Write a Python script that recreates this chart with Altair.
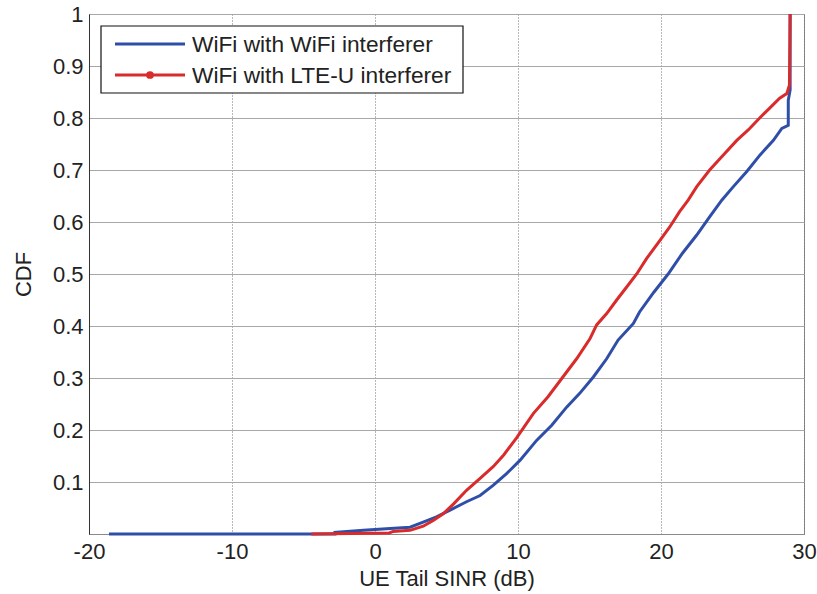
import altair as alt
import pandas as pd

series_names = ["WiFi with WiFi interferer", "WiFi with LTE-U interferer"]
series_colors = ["#2f4ea8", "#d92b2b"]

wifi_x = [-18.6, -2.8, -2.8, -0.8, 0.8, 2.45, 3.37, 4.3, 5.25, 6.4, 7.35, 8.28, 9.2,
          10.15, 11.3, 12.36, 13.4, 14.3, 15.27, 16.2, 17.0, 18.07, 18.5, 19.5, 20.5,
          21.5, 22.5, 23.4, 24.25, 25.06, 26.0, 26.93, 27.86, 28.45, 28.9, 28.9, 29.03, 29.03]
wifi_y = [0.0, 0.0, 0.003, 0.007, 0.01, 0.013, 0.023, 0.033, 0.046, 0.062, 0.074, 0.094, 0.116,
          0.142, 0.18, 0.209, 0.244, 0.27, 0.302, 0.337, 0.373, 0.405, 0.427, 0.465, 0.5,
          0.54, 0.575, 0.61, 0.642, 0.668, 0.697, 0.729, 0.757, 0.78, 0.786, 0.834, 0.854, 1.0]

lte_x = [-4.45, 1.0, 1.27, 2.45, 3.37, 4.07, 4.77, 5.5, 6.4, 7.35, 8.28, 9.0, 9.9,
         11.08, 12.1, 13.06, 14.1, 15.04, 15.5, 16.2, 16.9, 17.6, 18.3, 19.0, 19.8,
         20.6, 21.3, 21.9, 22.5, 23.4, 24.36, 25.3, 26.1, 26.9, 27.6, 28.3, 28.8,
         28.98, 29.03]
lte_y = [0.0, 0.002, 0.005, 0.007, 0.015, 0.026, 0.039, 0.058, 0.084, 0.107, 0.13, 0.152, 0.185,
         0.232, 0.264, 0.299, 0.337, 0.376, 0.402, 0.424, 0.45, 0.475, 0.5, 0.53, 0.56,
         0.59, 0.62, 0.642, 0.668, 0.7, 0.729, 0.757, 0.777, 0.8, 0.819, 0.838, 0.847,
         0.863, 1.0]

x_ticks = [-20, -10, 0, 10, 20, 30]
y_ticks = [0.1, 0.2, 0.3, 0.4, 0.5, 0.6, 0.7, 0.8, 0.9, 1.0]

FONT = "Liberation Sans"

df_wifi = pd.DataFrame({"sinr": wifi_x, "cdf": wifi_y, "order": list(range(len(wifi_x))),
                        "series": series_names[0]})
df_lte = pd.DataFrame({"sinr": lte_x, "cdf": lte_y, "order": list(range(len(lte_x))),
                       "series": series_names[1]})

xscale = alt.Scale(domain=[-20, 30], nice=False, zero=False)
yscale = alt.Scale(domain=[0, 1], nice=False, zero=False)

x_axis = alt.Axis(values=x_ticks, labelExpr="'' + datum.value", labelFlush=False,
                  title="UE Tail SINR (dB)",
                  titleX=357.5, titleY=44, titleBaseline="middle", titleAlign="center")
y_axis = alt.Axis(values=y_ticks, format="~g", title="CDF", labelFlush=False,
                  titleX=-66, titleY=260, titleBaseline="middle", titleAlign="center",
                  titleAngle=-90)


def series_line(df, color):
    return alt.Chart(df).mark_line(color=color, strokeWidth=3).encode(
        x=alt.X("sinr:Q", scale=xscale, axis=x_axis),
        y=alt.Y("cdf:Q", scale=yscale, axis=y_axis),
        order="order:Q",
    )


blue = series_line(df_wifi, series_colors[0])
red = series_line(df_lte, series_colors[1])

# legend box
one = pd.DataFrame({"k": [0]})
box = alt.Chart(one).mark_rect(fill="white", stroke="#111", strokeWidth=1.2).encode(
    x=alt.value(12), x2=alt.value(374), y=alt.value(12), y2=alt.value(79))

row_y = [30, 61]
legend_layers = [box]
for i, name in enumerate(series_names):
    ldf = pd.DataFrame({"label": [name]})
    legend_layers.append(
        alt.Chart(ldf).mark_rule(color=series_colors[i], strokeWidth=3).encode(
            x=alt.value(26), x2=alt.value(96), y=alt.value(row_y[i])))
    legend_layers.append(
        alt.Chart(ldf).mark_text(align="left", baseline="middle", fontSize=22.7, font=FONT,
                                 color="#222").encode(
            text="label:N", x=alt.value(103), y=alt.value(row_y[i] + 1)))
legend_layers.append(
    alt.Chart(one).mark_point(filled=True, color=series_colors[1], size=60, opacity=1).encode(
        x=alt.value(61), y=alt.value(row_y[1])))

chart = alt.layer(blue, red, *legend_layers).properties(
    width=715, height=520,
    autosize=alt.AutoSizeParams(type="none"),
    padding={"left": 89, "top": 14, "right": 13, "bottom": 60},
    background="white",
).configure_view(
    stroke="#8a8a8a", strokeWidth=1
).configure_axis(
    labelFont=FONT, titleFont=FONT, labelFontSize=22, titleFontSize=22,
    titleFontWeight="normal", labelColor="#222", titleColor="#222",
    ticks=False, labelPadding=6, grid=True,
).configure_axisX(
    domainColor="#8a8a8a", gridColor="#707070", gridDash=[1, 2], gridWidth=1, labelPadding=7,
).configure_axisY(
    domainColor="#333", gridColor="#a8a8a8", gridWidth=1.2,
)

chart.save("out.html", embed_options={"renderer": "svg", "actions": False})
